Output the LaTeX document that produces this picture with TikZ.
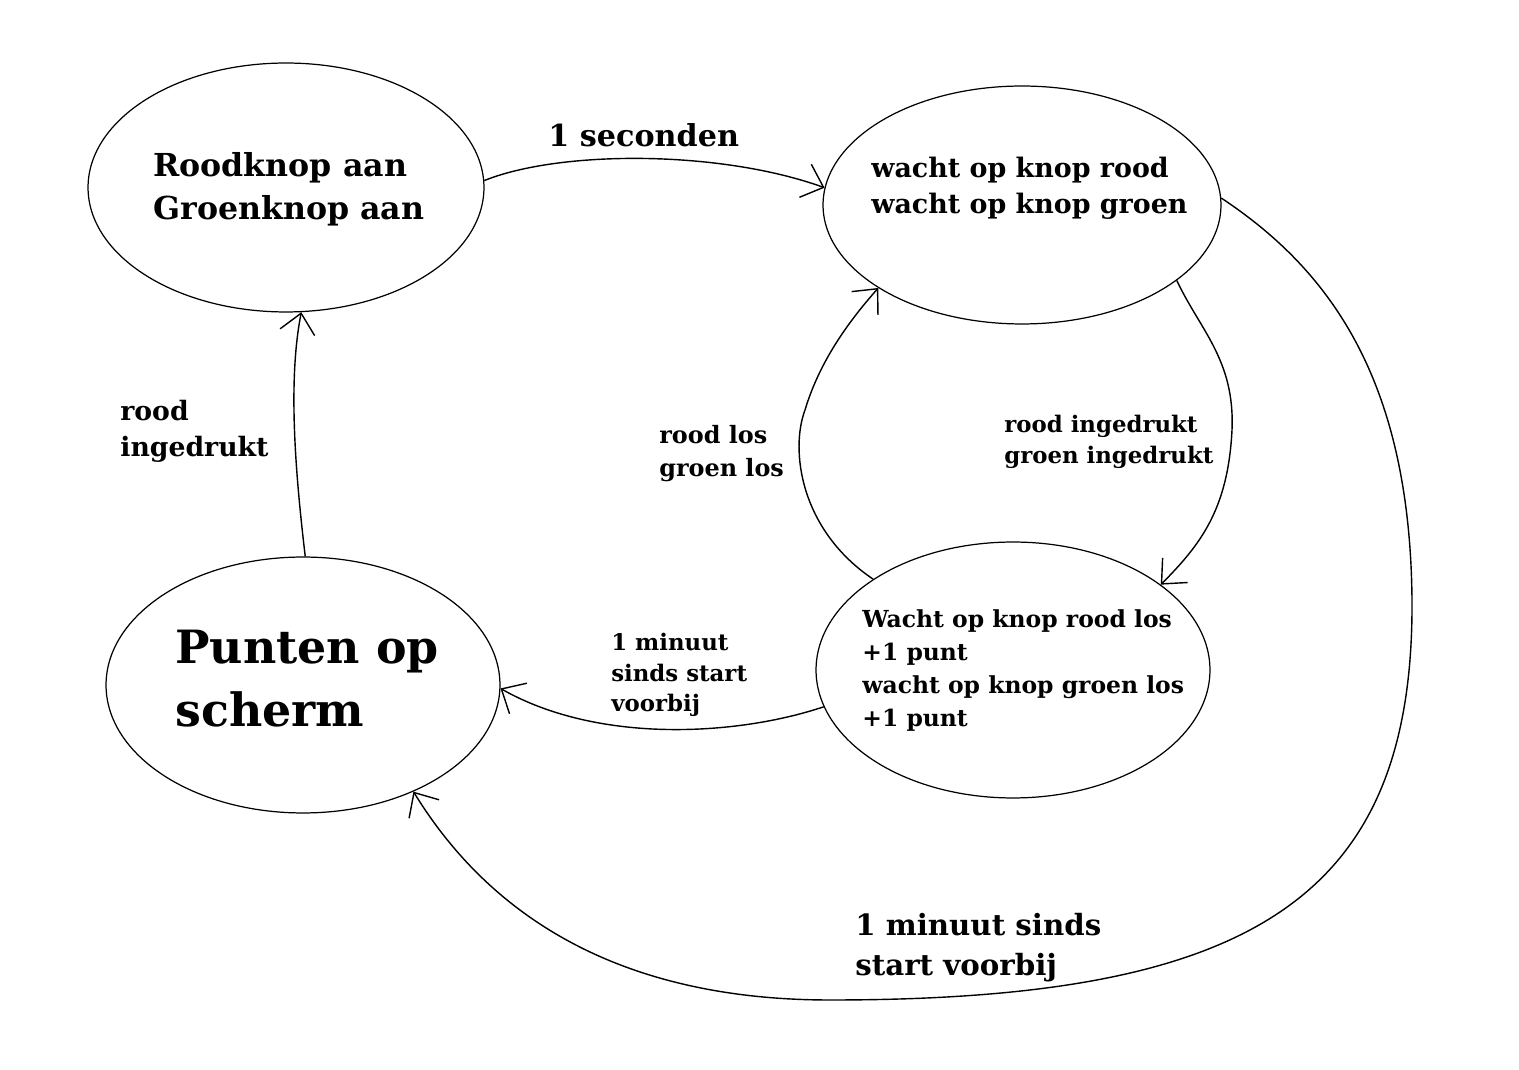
\documentclass[tikz,border=0pt]{standalone}
\usepackage{fontspec}
\setmainfont{DejaVu Serif}
\usetikzlibrary{shapes.geometric,arrows.meta}
\begin{document}
\begin{tikzpicture}[x=0.02cm,y=-0.02cm,
  state/.style={draw,ellipse,line width=0.7pt,inner sep=0pt},
  lbl/.style={anchor=base west,align=left,inner sep=0pt,font=\bfseries},
  conn/.style={line width=0.8pt,-{Straight Barb[length=11pt,width=20pt,line width=0.8pt]}}]
\useasboundingbox[fill=white] (0,0) rectangle (1519,1070);
% states
\node[state,minimum width=7.92cm,minimum height=4.98cm] (e1) at (286,187.5) {};
\node[state,minimum width=7.96cm,minimum height=4.76cm] (e2) at (1022,205) {};
\node[state,minimum width=7.88cm,minimum height=5.12cm] (e3) at (303,685) {};
\node[state,minimum width=7.88cm,minimum height=5.12cm] (e4) at (1013,670) {};
% state texts (anchor = baseline of last line)
\node[lbl,font=\bfseries\fontsize{18}{24.5}\selectfont] (t1) at (153,220) {Roodknop aan\\Groenknop aan};
\node[lbl,font=\bfseries\fontsize{15.3}{21}\selectfont] (t2) at (871,214) {wacht op knop rood\\wacht op knop groen};
\node[lbl,font=\bfseries\fontsize{26.1}{36.4}\selectfont] (t3) at (175,727) {Punten op\\scherm};
\node[lbl,font=\bfseries\fontsize{13.35}{18.8}\selectfont] (t4) at (862,727) {Wacht op knop rood los\\+1 punt\\wacht op knop groen los\\+1 punt};
% connector labels
\node[lbl,font=\bfseries\fontsize{17.2}{20}\selectfont] (l1) at (548,147) {1 seconden};
\node[lbl,font=\bfseries\fontsize{15.2}{20.5}\selectfont] (l2) at (120,457) {rood\\ingedrukt};
\node[lbl,font=\bfseries\fontsize{13.6}{19.3}\selectfont] (l3) at (659,477) {rood los\\groen los};
\node[lbl,font=\bfseries\fontsize{13}{18.2}\selectfont] (l4) at (1004,464) {rood ingedrukt\\groen ingedrukt};
\node[lbl,font=\bfseries\fontsize{13}{17.6}\selectfont] (l5) at (611,712) {1 minuut\\sinds start\\voorbij};
\node[lbl,font=\bfseries\fontsize{16.65}{23.3}\selectfont] (l6) at (855,976) {1 minuut sinds\\start voorbij};
% connectors
\draw[conn] (e1.2) .. controls (560,150) and (720,150) .. (e2.175);
\draw[conn] (e3.89) .. controls (295,470) and (288,380) .. (e1.-83);
\draw[conn] (e2.2) .. controls (1330,270) and (1410,380) .. (1412,600)
  .. controls (1414,900) and (1250,1000) .. (830,1000)
  .. controls (600,1000) and (480,900) .. (e3.-44);
\draw[conn] (e2.-26) .. controls (1200,330) and (1235,360) .. (1232,430)
  .. controls (1228,510) and (1200,545) .. (e4.30);
\draw[conn] (e4.147) .. controls (800,530) and (790,450) .. (805,410)
  .. controls (820,360) and (850,320) .. (e2.-150);
\draw[conn] (e4.-169) .. controls (740,735) and (600,745) .. (e3.-1);
\end{tikzpicture}
\end{document}
